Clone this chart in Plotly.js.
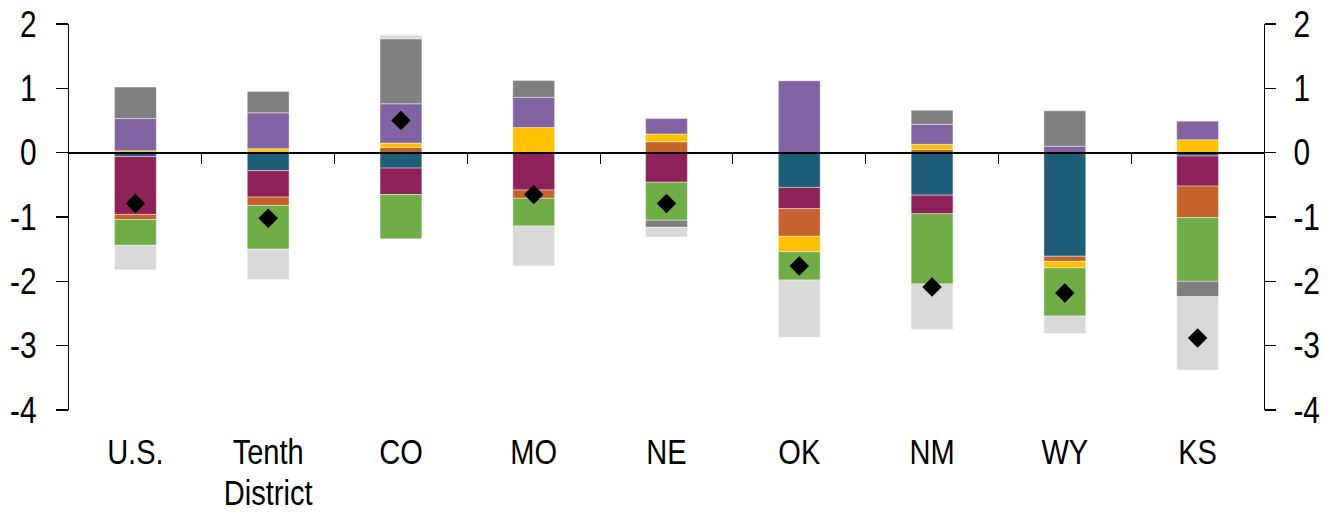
<!DOCTYPE html>
<html>
<head>
<meta charset="utf-8">
<script src="https://cdn.plot.ly/plotly-3.0.1.min.js"></script>
<style>html,body{margin:0;padding:0;background:#fff;}#chart{width:1332px;height:514px;}</style>
</head>
<body>
<div id="chart"></div>
<script>
const categories = ["U.S.", "Tenth<br>District", "CO", "MO", "NE", "OK", "NM", "WY", "KS"];
const tealVals   = [-0.06, -0.28, -0.24, 0, 0, -0.54, -0.66, -1.61, -0.05];
const maroonVals = [-0.90, -0.41, -0.41, -0.58, -0.46, -0.33, -0.29, 0, -0.47];
const orangeVals = [-0.08, -0.13, 0.08, -0.13, 0.17, -0.43, 0.05, -0.08, -0.49];
const yellowVals = [0.03, 0.06, 0.07, 0.39, 0.12, -0.24, 0.08, -0.10, 0.20];
const greenVals  = [-0.40, -0.68, -0.69, -0.43, -0.59, -0.44, -1.09, -0.75, -0.99];
const purpleVals = [0.50, 0.56, 0.61, 0.47, 0.24, 1.12, 0.31, 0.10, 0.29];
const grayVals   = [0.49, 0.33, 1.01, 0.26, -0.11, 0, 0.22, 0.55, -0.24];
const lightVals  = [-0.38, -0.47, 0.06, -0.62, -0.15, -0.89, -0.71, -0.27, -1.14];
const totalVals  = [-0.79, -1.02, 0.50, -0.65, -0.79, -1.76, -2.09, -2.18, -2.88];
const yTicks = [2, 1, 0, -1, -2, -3, -4];

const series = [
  {name: "teal", y: tealVals, color: "#1F5C78"},
  {name: "maroon", y: maroonVals, color: "#8E2157"},
  {name: "orange", y: orangeVals, color: "#C5632C"},
  {name: "yellow", y: yellowVals, color: "#FFC000"},
  {name: "green", y: greenVals, color: "#70AD47"},
  {name: "purple", y: purpleVals, color: "#8064A2"},
  {name: "gray", y: grayVals, color: "#7F7F7F"},
  {name: "lightgray", y: lightVals, color: "#D9D9D9"}
];

const traces = series.map(s => ({
  type: "bar", x: categories, y: s.y, name: s.name,
  marker: {color: s.color, line: {width: 0.6, color: "rgba(255,255,255,0.7)"}},
  hoverinfo: "skip"
}));
traces.push({
  type: "scatter", mode: "markers", x: categories, y: totalVals, name: "total",
  marker: {symbol: "diamond", size: 15, color: "#000"}, hoverinfo: "skip"
});
// helper trace for the zero-line axis
traces.push({type: "scatter", mode: "markers", x: [-0.5, 8.5], y: [0, 0], xaxis: "x2",
  marker: {opacity: 0, size: 1}, hoverinfo: "skip", showlegend: false});
// helper trace for right axis
traces.push({type: "scatter", mode: "markers", x: categories.slice(0,1), y: [0], yaxis: "y2",
  marker: {opacity: 0, size: 1}, hoverinfo: "skip", showlegend: false});

const fontFam = "'Liberation Sans', Arial, sans-serif";
const FS = 36;
const XFS = 35;
const layout = {
  width: 1332, height: 514,
  margin: {l: 69, r: 68, t: 24, b: 104},
  barmode: "relative", bargap: 0.685,
  showlegend: false,
  plot_bgcolor: "#fff", paper_bgcolor: "#fff",
  font: {family: fontFam, size: FS, color: "#000"},
  xaxis: {type: "category", showline: false, ticks: "", showgrid: false, zeroline: false,
    tickfont: {family: fontFam, size: XFS, color: "#000"}, range: [-0.5, 8.5],
    ticklabelstandoff: 18},
  xaxis2: {overlaying: "x", anchor: "free", position: (0 - (-4)) / (2 - (-4)),
    range: [-0.5, 8.5], showline: true, linecolor: "#000", linewidth: 2,
    ticks: "outside", ticklen: 10, tickcolor: "#000", tickwidth: 1.2,
    tickvals: [0.5, 1.5, 2.5, 3.5, 4.5, 5.5, 6.5, 7.5], showticklabels: false,
    showgrid: false, zeroline: false},
  yaxis: {range: [-4, 2], tickvals: yTicks, ticktext: yTicks.map(String),
    showline: true, linecolor: "#000", linewidth: 1.2, ticks: "outside", ticklen: 12,
    tickcolor: "#000", tickwidth: 1.2, showgrid: false, zeroline: false, ticklabelstandoff: 12,
    tickfont: {family: fontFam, size: FS, color: "#000"}},
  yaxis2: {overlaying: "y", side: "right", range: [-4, 2], tickvals: yTicks,
    ticktext: yTicks.map(String), showline: true, linecolor: "#000", linewidth: 1.2,
    ticks: "outside", ticklen: 11, tickcolor: "#000", tickwidth: 1.2, showgrid: false, zeroline: false,
    ticklabelstandoff: 10, tickfont: {family: fontFam, size: FS, color: "#000"}}
};

function condense(el, f) {
  const tspans = el.querySelectorAll("tspan.line");
  const targets = tspans.length ? Array.from(tspans) : [el];
  targets.forEach((t, i) => {
    if (i > 0) t.setAttribute("dy", "1.18em");
    const w = t.getComputedTextLength();
    if (w > 0) {
      t.setAttribute("textLength", (w * f).toFixed(2));
      t.setAttribute("lengthAdjust", "spacingAndGlyphs");
    }
  });
}

Plotly.newPlot("chart", traces, layout, {staticPlot: true, displayModeBar: false}).then(gd => {
  gd.querySelectorAll(".xtick text, .ytick text, .y2tick text").forEach(el => condense(el, 0.83));
});
</script>
</body>
</html>
